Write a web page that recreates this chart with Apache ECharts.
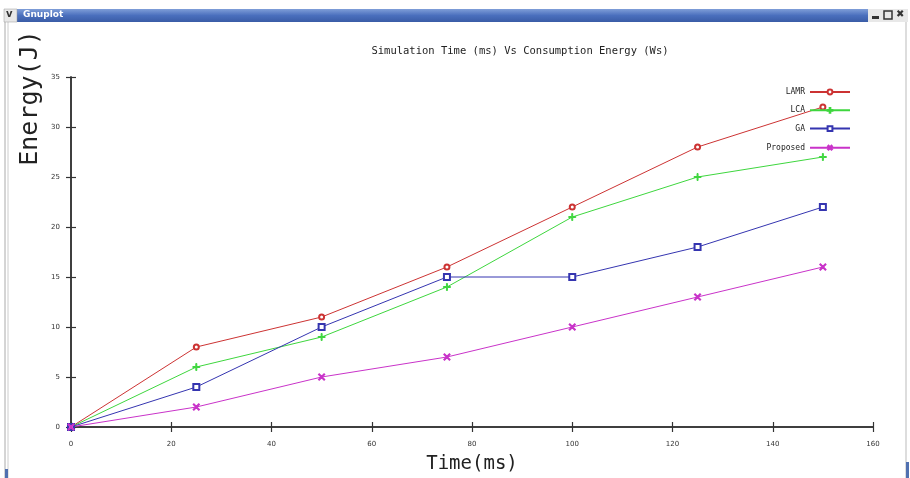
<!DOCTYPE html>
<html>
<head>
<meta charset="utf-8">
<script src="https://cdn.jsdelivr.net/npm/echarts@6/dist/echarts.min.js"></script>
<style>
html,body{margin:0;padding:0;background:#fff;}
#chart{width:910px;height:478px;}
</style>
</head>
<body>
<div id="chart"></div>
<script>
const timeValues = [0, 25, 50, 75, 100, 125, 150];
const lamr = [0, 8, 11, 16, 22, 28, 32];
const lca = [0, 6, 9, 14, 21, 25, 27];
const ga = [0, 4, 10, 15, 15, 18, 22];
const proposed = [0, 2, 5, 7, 10, 13, 16];
const seriesNames = ['LAMR', 'LCA', 'GA', 'Proposed'];
const chartTitle = 'Simulation Time (ms) Vs Consumption Energy (Ws)';
const xName = 'Time(ms)';
const yName = 'Energy(J)';

const colors = ['#cc3333', '#3ed63e', '#3535b0', '#c933c9'];
const plusPath = 'path://M4.3,0H5.7V4.3H10V5.7H5.7V10H4.3V5.7H0V4.3H4.3Z';
const symbols = ['emptyCircle', plusPath, 'emptyRect', plusPath];
const rotations = [0, 0, 0, 45];
const sizes = [5, 7, 6, 8];
const dataSets = [lamr, lca, ga, proposed];

const chart = echarts.init(document.getElementById('chart'));
const mono = 'DejaVu Sans Mono';

const axisLine = {show: true, lineStyle: {color: '#333', width: 1.5}};
const axisTick = {show: true, inside: true, length: 5, lineStyle: {color: '#333', width: 1.2}};

chart.setOption({
  animation: false,
  backgroundColor: '#fff',
  title: {
    text: chartTitle,
    left: 515, top: 41, textAlign: 'center',
    textStyle: {fontFamily: mono, fontSize: 10.5, fontWeight: 'normal', color: '#222'}
  },
  legend: {
    orient: 'vertical',
    right: 54, top: 83,
    align: 'right',
    itemWidth: 40, itemHeight: 6, itemGap: 10.3,
    textStyle: {fontFamily: mono, fontSize: 8, color: '#222'},
    data: seriesNames
  },
  grid: {left: 71, top: 77, right: 37, bottom: 51, containLabel: false},
  xAxis: [{
    type: 'value', min: 0, max: 160, interval: 20,
    axisLine: axisLine, axisTick: axisTick,
    axisLabel: {margin: 14, fontSize: 7, color: '#333', fontFamily: 'DejaVu Sans'},
    splitLine: {show: false}
  }, {
    type: 'value', position: 'top', min: 0, max: 160, interval: 20,
    axisLine: axisLine, axisTick: axisTick,
    axisLabel: {show: false}, splitLine: {show: false}
  }],
  yAxis: [{
    type: 'value', min: 0, max: 35, interval: 5,
    axisLine: axisLine, axisTick: axisTick,
    axisLabel: {margin: 11, fontSize: 7, color: '#333', fontFamily: 'DejaVu Sans'},
    splitLine: {show: false}
  }, {
    type: 'value', position: 'right', min: 0, max: 35, interval: 5,
    axisLine: axisLine, axisTick: axisTick,
    axisLabel: {show: false}, splitLine: {show: false}
  }],
  graphic: [
    {type: 'text', x: 30, y: 98, rotation: Math.PI / 2, z: 1,
     style: {text: yName, font: '25px DejaVu Sans Mono', fill: '#222', align: 'center', verticalAlign: 'middle'}},
    {type: 'rect', shape: {x: 0, y: 0, width: 910, height: 9}, style: {fill: '#fff'}, z: 5},
    {type: 'rect', shape: {x: 4, y: 9, width: 903, height: 13}, z: 5,
     style: {fill: new echarts.graphic.LinearGradient(0, 0, 0, 1, [
       {offset: 0, color: '#7f9ed8'}, {offset: 0.5, color: '#4a6fbd'}, {offset: 1, color: '#3a5ca6'}])}},
    {type: 'rect', shape: {x: 4, y: 9, width: 13, height: 13}, z: 6, style: {fill: '#e8e8e8', stroke: '#999', lineWidth: 0.5}},
    {type: 'text', left: 6, top: 9, z: 7, style: {text: 'v', font: 'bold 10px DejaVu Sans', fill: '#333'}},
    {type: 'text', left: 23, top: 10, z: 7, style: {text: 'Gnuplot', font: 'bold 9px DejaVu Sans', fill: '#fff'}},
    {type: 'rect', shape: {x: 868, y: 9, width: 40, height: 13}, z: 6, style: {fill: '#e8e8e8'}},
    {type: 'rect', shape: {x: 872, y: 16, width: 7, height: 3}, z: 7, style: {fill: '#333'}},
    {type: 'rect', shape: {x: 884, y: 11, width: 8, height: 8}, z: 7, style: {fill: 'none', stroke: '#333', lineWidth: 1.5}},
    {type: 'text', left: 896, top: 9, z: 7, style: {text: '✖', font: 'bold 10px DejaVu Sans', fill: '#333'}},
    {type: 'line', shape: {x1: 5, y1: 22, x2: 5, y2: 478}, style: {stroke: '#aaa', lineWidth: 1}},
    {type: 'line', shape: {x1: 8, y1: 22, x2: 8, y2: 478}, style: {stroke: '#ccc', lineWidth: 1}},
    {type: 'rect', shape: {x: 5, y: 469, width: 3, height: 9}, style: {fill: '#5070b0'}},
    {type: 'line', shape: {x1: 906, y1: 22, x2: 906, y2: 478}, style: {stroke: '#bbb', lineWidth: 1}},
    {type: 'rect', shape: {x: 906, y: 462, width: 3, height: 16}, style: {fill: '#5070b0'}},
    {type: 'text', x: 472, y: 464,
     style: {text: xName, font: '19px DejaVu Sans Mono', fill: '#222', align: 'center', verticalAlign: 'middle'}}
  ],
  series: seriesNames.map((name, i) => ({
    name: name,
    type: 'line',
    data: timeValues.map((t, j) => [t, dataSets[i][j]]),
    symbol: symbols[i],
    symbolSize: sizes[i],
    symbolRotate: rotations[i],
    showAllSymbol: true,
    lineStyle: {color: colors[i], width: 1},
    itemStyle: {color: colors[i], borderColor: colors[i], borderWidth: 1},
    emphasis: {disabled: true}
  }))
});
</script>
</body>
</html>
